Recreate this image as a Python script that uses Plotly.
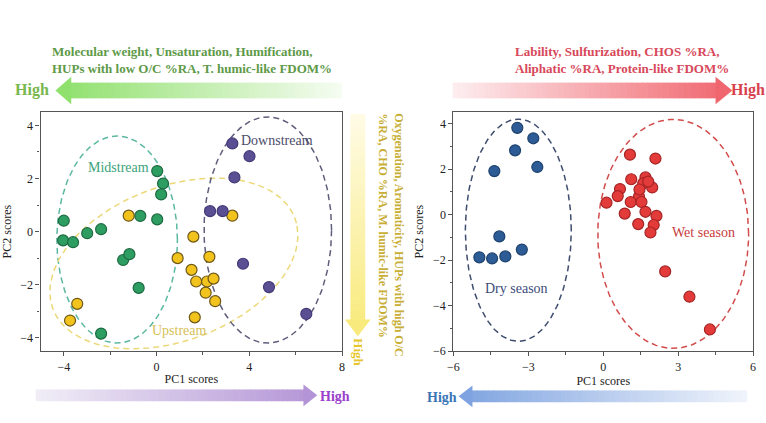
import numpy as np
import plotly.graph_objects as go

W, H = 766, 423

# ---------------- data ----------------
mid_x = [-4.0, -4.03, -3.6, -2.99, -2.39, -1.44, -1.17, -0.70, -0.77, 0.03, 0.28, 0.20, 0.03, -2.39]
mid_y = [0.41, -0.33, -0.40, -0.06, 0.09, -1.07, -0.85, 0.59, -2.12, 2.28, 1.81, 1.40, 0.46, -3.84]

up_x = [-1.20, 1.59, 0.91, 1.51, 1.71, 2.28, 2.18, 2.46, 2.12, 2.53, 1.65, 3.27, -3.42, -3.73]
up_y = [0.60, -0.19, -1.00, -1.44, -1.88, -0.95, -1.88, -1.77, -2.30, -2.62, -3.23, 0.60, -2.72, -3.35]

down_x = [3.27, 4.01, 3.36, 2.31, 2.85, 3.73, 4.85, 6.46]
down_y = [3.32, 2.84, 2.04, 0.77, 0.77, -1.21, -2.09, -3.10]

dry_x = [-3.44, -2.80, -3.53, -2.64, -4.36, -4.16, -4.96, -4.45, -3.92, -3.26]
dry_y = [3.81, 3.35, 2.82, 2.09, 1.91, -0.96, -1.88, -1.93, -1.84, -1.54]

wet_x = [1.07, 2.09, 1.12, 1.69, 1.60, 1.96, 0.67, 0.58, 1.43, 0.13, 1.10, 1.53,
         0.86, 1.69, 2.13, 1.40, 2.02, 1.89, 2.48, 3.45, 4.27, 1.80, 1.45]
wet_y = [2.63, 2.46, 1.55, 1.63, 1.37, 1.19, 1.12, 0.81, 0.79, 0.52, 0.55, 0.55,
         0.04, 0.12, -0.06, -0.42, -0.46, -0.79, -2.50, -3.61, -5.05, 1.45, 1.10]

# confidence ellipses: (cx, cy, a, b, angle_deg)
ell_mid = (-1.70, -0.30, 2.60, 3.90, 0)
ell_up = (0.75, -1.20, 5.50, 2.95, 16)
ell_down = (4.80, 0.06, 2.75, 4.26, 0)
ell_dry = (-3.40, -0.69, 2.12, 4.88, 0)
ell_wet = (2.80, -0.85, 3.02, 5.03, 0)

left_top_text = "Molecular weight, Unsaturation, Humification,<br>HUPs with low O/C %RA, T. humic-like FDOM%"
right_top_text = "Lability, Sulfurization, CHOS %RA,<br>Aliphatic %RA, Protein-like FDOM%"
vert_text = "Oxygenation, Aromaticity, HUPs with high O/C<br>%RA, CHO %RA, M. humic-like FDOM%"

SERIF = "Liberation Serif"


def px(x):
    return x / W


def py(y):
    return 1 - y / H


def ellipse(p, n=200):
    cx, cy, a, b, ang = p
    t = np.linspace(0, 2 * np.pi, n)
    th = np.deg2rad(ang)
    x = cx + a * np.cos(th) * np.cos(t) - b * np.sin(th) * np.sin(t)
    y = cy + a * np.sin(th) * np.cos(t) + b * np.cos(th) * np.sin(t)
    return x, y


def hx(c):
    c = c.lstrip('#')
    return [int(c[i:i + 2], 16) for i in (0, 2, 4)]


def mix(c0, c1, t):
    a, b = hx(c0), hx(c1)
    r = [round(a[i] + (b[i] - a[i]) * t) for i in range(3)]
    return "rgb(%d,%d,%d)" % tuple(r)


shapes = []


def h_arrow(x_tail, x_tip, yc, shaft_h, head_h, head_len, c_tail, c_tip, n=50):
    d = 1 if x_tip > x_tail else -1
    x_base = x_tip - d * head_len
    edges = np.linspace(x_tail, x_base, n + 1)
    for i in range(n):
        t = (i + 0.5) / n
        x0, x1 = sorted([edges[i], edges[i + 1] + d * 0.6])
        shapes.append(dict(type="rect", xref="paper", yref="paper",
                           x0=px(x0), x1=px(x1), y0=py(yc + shaft_h / 2), y1=py(yc - shaft_h / 2),
                           fillcolor=mix(c_tail, c_tip, t * 0.95), line=dict(width=0), layer="below"))
    path = "M %f,%f L %f,%f L %f,%f Z" % (px(x_base), py(yc - head_h / 2), px(x_tip), py(yc),
                                         px(x_base), py(yc + head_h / 2))
    shapes.append(dict(type="path", xref="paper", yref="paper", path=path,
                       fillcolor=mix(c_tail, c_tip, 1.0), line=dict(width=0), layer="below"))


def v_arrow(y_tail, y_tip, xc, shaft_w, head_w, head_len, c_tail, c_tip, n=50):
    y_base = y_tip - head_len
    edges = np.linspace(y_tail, y_base, n + 1)
    for i in range(n):
        t = (i + 0.5) / n
        shapes.append(dict(type="rect", xref="paper", yref="paper",
                           x0=px(xc - shaft_w / 2), x1=px(xc + shaft_w / 2),
                           y0=py(edges[i]), y1=py(edges[i + 1] + 0.6),
                           fillcolor=mix(c_tail, c_tip, t * 0.95), line=dict(width=0), layer="below"))
    path = "M %f,%f L %f,%f L %f,%f Z" % (px(xc - head_w / 2), py(y_base), px(xc), py(y_tip),
                                         px(xc + head_w / 2), py(y_base))
    shapes.append(dict(type="path", xref="paper", yref="paper", path=path,
                       fillcolor=mix(c_tail, c_tip, 1.0), line=dict(width=0), layer="below"))


# arrows
h_arrow(340, 50, 92, 16, 28, 16, "#f6fcf2", "#8fe06c")      # green, top left
h_arrow(452, 735, 92, 16, 28, 17, "#fdeef0", "#f0666e")     # red, top right
h_arrow(30, 315, 402, 12, 22, 14, "#f1eef7", "#b394d6")     # purple, bottom left
h_arrow(750, 458, 403, 12, 22, 14, "#f0f4fb", "#7ea3e0")    # blue, bottom right
v_arrow(116, 342, 356, 15, 26, 17, "#fffbe6", "#f8ea7c")    # yellow, vertical

fig = go.Figure()


def add_pts(x, y, fill, edge, xa="x", ya="y"):
    fig.add_trace(go.Scatter(x=x, y=y, mode="markers", xaxis=xa, yaxis=ya,
                             marker=dict(size=11, color=fill, line=dict(color=edge, width=1.2)),
                             showlegend=False, hoverinfo="skip"))


def add_ell(p, color, xa="x", ya="y"):
    ex, ey = ellipse(p)
    fig.add_trace(go.Scatter(x=ex, y=ey, mode="lines", xaxis=xa, yaxis=ya,
                             line=dict(color=color, width=1.5, dash="6px,4px"),
                             showlegend=False, hoverinfo="skip"))


add_ell(ell_mid, "#5cb8a0")
add_ell(ell_up, "#ecd878")
add_ell(ell_down, "#5e5e7c")
add_pts(mid_x, mid_y, "#2e9d62", "#1c6a40")
add_pts(up_x, up_y, "#f2c21d", "#6e5818")
add_pts(down_x, down_y, "#5b4f93", "#433a78")

add_ell(ell_dry, "#3e4c6e", "x2", "y2")
add_ell(ell_wet, "#d24c4c", "x2", "y2")
add_pts(dry_x, dry_y, "#2c5b95", "#1e426e", "x2", "y2")
add_pts(wet_x, wet_y, "#e33a3a", "#a52424", "x2", "y2")

annotations = []


def ann(x, y, text, color, size=12, xref="paper", yref="paper", xanchor="center", yanchor="middle",
        angle=0, align="center", bold=False):
    if xref == "paper":
        x = px(x)
    if yref == "paper":
        y = py(y)
    if bold:
        text = "<b>" + text.replace("<br>", "</b><br><b>") + "</b>"
    annotations.append(dict(x=x, y=y, xref=xref, yref=yref, text=text, showarrow=False,
                            xanchor=xanchor, yanchor=yanchor, textangle=angle, align=align,
                            borderpad=0,
                            font=dict(family=SERIF, size=size, color=color)))


# in-plot labels
ann(-1.65, 2.43, "Midstream", "#3ca27c", 14, "x", "y")
ann(5.2, 3.43, "Downstream", "#4c4c6a", 14, "x", "y")
ann(0.98, -3.74, "Upstream", "#d6bf58", 14, "x", "y")
ann(4.0, -0.79, "Wet season", "#c83c3c", 14, "x2", "y2")
ann(-3.46, -3.27, "Dry season", "#3c4c7a", 14, "x2", "y2")

# top text blocks
ann(46, 61, left_top_text, "#5e9a48", 13, xanchor="left", align="left", bold=True)
ann(514, 61, right_top_text, "#d8485a", 13, xanchor="left", align="left", bold=True)
ann(8, 92, "High", "#78b84e", 16, xanchor="left", bold=True)
ann(733, 92, "High", "#d8404c", 16, xanchor="left", bold=True)
ann(317, 403, "High", "#9a40cc", 14, xanchor="left", bold=True)
ann(457, 404, "High", "#3a76b6", 14, xanchor="right", bold=True)
ann(390, 114, vert_text, "#c8ae34", 12, xanchor="center", yanchor="top", angle=90,
    align="left", bold=True)
ann(357, 358, "High", "#e6c62a", 13, xanchor="center", angle=90, bold=True)

axis_common = dict(showline=True, linecolor="#555", linewidth=1.2, mirror=True, ticks="outside",
                   ticklen=4, tickcolor="#555", showgrid=False, zeroline=False,
                   tickfont=dict(family=SERIF, size=12, color="#222"))

fig.update_layout(
    width=W, height=H, margin=dict(l=0, r=0, t=0, b=0),
    paper_bgcolor="white", plot_bgcolor="white",
    shapes=shapes, annotations=annotations,
    xaxis=dict(domain=[px(35), px(340)], range=[-5, 8], tickvals=[-4, 0, 4, 8],
               minor=dict(ticks="outside", ticklen=2.5, tickvals=[-2, 2, 6], tickcolor="#555"),
               title=dict(text="PC1 scores", font=dict(family=SERIF, size=12, color="#222"), standoff=2),
               anchor="y", **axis_common),
    yaxis=dict(domain=[py(357), py(114)], range=[-4.5, 4.5], tickvals=[-4, -2, 0, 2, 4],
               minor=dict(ticks="outside", ticklen=2.5, tickvals=[-3, -1, 1, 3], tickcolor="#555"),
               title=dict(text="PC2 scores", font=dict(family=SERIF, size=12, color="#222"), standoff=6),
               anchor="x", **axis_common),
    xaxis2=dict(domain=[px(452.7), px(756)], range=[-6, 6], tickvals=[-6, -3, 0, 3, 6],
                minor=dict(ticks="outside", ticklen=2.5, tickvals=[-4.5, -1.5, 1.5, 4.5], tickcolor="#555"),
                title=dict(text="PC1 scores", font=dict(family=SERIF, size=12, color="#222"), standoff=2),
                anchor="y2", **axis_common),
    yaxis2=dict(domain=[py(357), py(114)], range=[-6, 4.5], tickvals=[-6, -4, -2, 0, 2, 4],
                minor=dict(ticks="outside", ticklen=2.5, tickvals=[-5, -3, -1, 1, 3], tickcolor="#555"),
                title=dict(text="PC2 scores", font=dict(family=SERIF, size=12, color="#222"), standoff=6),
                anchor="x2", **axis_common),
)

fig.write_html("out.html")
